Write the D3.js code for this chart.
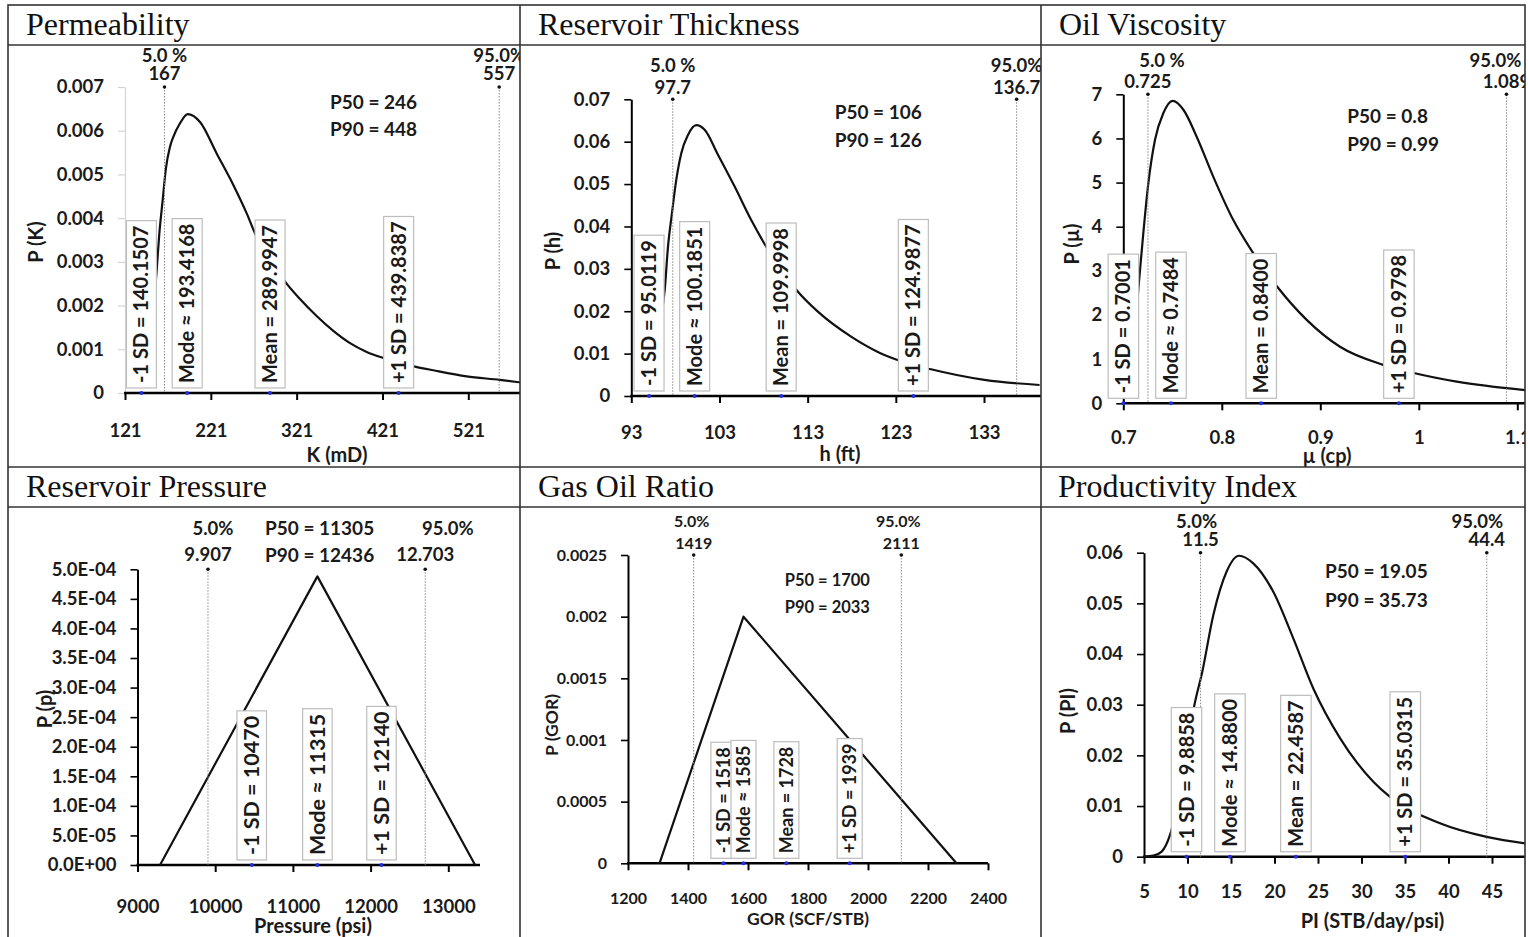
<!DOCTYPE html>
<html>
<head>
<meta charset="utf-8">
<script src="https://cdn.jsdelivr.net/npm/d3@7"></script>
<style>
  body { margin: 0; background: #fff; }
  svg { display: block; }
  .t { font-family: Lato, "Open Sans", sans-serif; font-weight: bold; fill: #1a1a1a; }
  .ttl { font-family: "Liberation Serif", "Times New Roman", serif; fill: #111; }
</style>
</head>
<body>
<svg id="chart" width="1528" height="937"></svg>
<script>
// ---------- data ----------
const titles = ["Permeability", "Reservoir Thickness", "Oil Viscosity",
                "Reservoir Pressure", "Gas Oil Ratio", "Productivity Index"];
const xTitles = ["K (mD)", "h (ft)", "\u00b5 (cp)", "Pressure (psi)", "GOR (SCF/STB)", "PI (STB/day/psi)"];
const yTitles = ["P (K)", "P (h)", "P (\u00b5)", "P (p)", "P (GOR)", "P (PI)"];

// probability density curves
const permK = [150, 154, 157.9, 161, 164.9, 168.4, 173.4, 177.3, 185.1, 194, 208.4, 227.8, 247.2, 262.8, 273.6,
               308.6, 324.9, 344.3, 363.7, 383.2, 402.6, 422, 457.7, 480.2, 519.1, 557.9, 582];
const permP = [0.0012, 0.0019, 0.00281, 0.00365, 0.00441, 0.0051, 0.00563, 0.00586, 0.00617, 0.00638, 0.0062,
               0.00548, 0.00476, 0.00411, 0.0036, 0.00252, 0.00215, 0.00176, 0.00142, 0.00114, 0.00094, 0.0008,
               0.00061, 0.00052, 0.00038, 0.0003, 0.00024];

const thickH = [95.5, 96.2, 96.79, 97.16, 97.61, 98.1, 98.67, 99.43, 100.37, 101.32, 102.83, 104.72, 106.6,
                108.42, 111.9, 114.16, 117.93, 120.96, 123.2, 127, 133.05, 139.3];
const thickP = [0.008, 0.017, 0.025, 0.0352, 0.0431, 0.051, 0.0573, 0.0616, 0.0639, 0.0628, 0.0569, 0.0494, 0.0415,
                0.0348, 0.0246, 0.0199, 0.014, 0.0104, 0.0085, 0.0063, 0.0038, 0.0026];

const viscMu = [0.708, 0.712, 0.7152, 0.7203, 0.7254, 0.7322, 0.7406, 0.7501, 0.761, 0.7745, 0.7914, 0.8117,
                0.832, 0.8563, 0.8862, 0.92, 0.964, 0.996, 1.0385, 1.112];
const viscP = [1.0, 1.8, 2.57, 3.85, 4.98, 5.97, 6.57, 6.85, 6.65, 6.04, 5.13, 4.15, 3.4, 2.64, 1.89, 1.28, 0.87,
               0.68, 0.49, 0.29];

const presX = [9290, 11315, 13345];
const presP = [0, 4.88e-4, 0];

const gorX = [1305, 1585, 2295];
const gorP = [0, 0.002, 0];

const piX = [5, 6.07, 7.03, 7.99, 9, 10, 10.67, 11.7, 12.97, 14.5, 15.92, 17.56, 19.86, 22.16, 24.46, 27.53,
             31.36, 33.28, 39.02, 44.39, 51];
const piP = [0, 0.0002, 0.001, 0.0043, 0.0115, 0.021, 0.0288, 0.0365, 0.0477, 0.0563, 0.0594, 0.0579, 0.0523,
             0.0431, 0.0332, 0.0234, 0.0148, 0.0118, 0.0066, 0.0039, 0.0022];

const curveX = [permK, thickH, viscMu, presX, gorX, piX];
const curveP = [permP, thickP, viscP, presP, gorP, piP];
const smooth = [true, true, true, false, false, true];

// axis ticks
const xTicks = [[121, 221, 321, 421, 521], [93, 103, 113, 123, 133], [0.7, 0.8, 0.9, 1, 1.1],
                [9000, 10000, 11000, 12000, 13000], [1200, 1400, 1600, 1800, 2000, 2200, 2400],
                [5, 10, 15, 20, 25, 30, 35, 40, 45, 50]];
const xTickLabels = [["121", "221", "321", "421", "521"], ["93", "103", "113", "123", "133"],
                     ["0.7", "0.8", "0.9", "1", "1.1"], ["9000", "10000", "11000", "12000", "13000"],
                     ["1200", "1400", "1600", "1800", "2000", "2200", "2400"],
                     ["5", "10", "15", "20", "25", "30", "35", "40", "45", "50"]];
const yTicks = [[0, 0.001, 0.002, 0.003, 0.004, 0.005, 0.006, 0.007],
                [0, 0.01, 0.02, 0.03, 0.04, 0.05, 0.06, 0.07],
                [0, 1, 2, 3, 4, 5, 6, 7],
                [0, 5e-5, 1e-4, 1.5e-4, 2e-4, 2.5e-4, 3e-4, 3.5e-4, 4e-4, 4.5e-4, 5e-4],
                [0, 0.0005, 0.001, 0.0015, 0.002, 0.0025],
                [0, 0.01, 0.02, 0.03, 0.04, 0.05, 0.06]];
const yTickLabels = [["0", "0.001", "0.002", "0.003", "0.004", "0.005", "0.006", "0.007"],
                     ["0", "0.01", "0.02", "0.03", "0.04", "0.05", "0.06", "0.07"],
                     ["0", "1", "2", "3", "4", "5", "6", "7"],
                     ["0.0E+00", "5.0E-05", "1.0E-04", "1.5E-04", "2.0E-04", "2.5E-04", "3.0E-04", "3.5E-04",
                      "4.0E-04", "4.5E-04", "5.0E-04"],
                     ["0", "0.0005", "0.001", "0.0015", "0.002", "0.0025"],
                     ["0", "0.01", "0.02", "0.03", "0.04", "0.05", "0.06"]];

// percentiles
const pct5 = [167, 97.7, 0.725, 9907, 1419, 11.5];
const pct5Head = ["5.0 %", "5.0 %", "5.0 %", "5.0%", "5.0%", "5.0%"];
const pct5Text = ["167", "97.7", "0.725", "9.907", "1419", "11.5"];
const pct95 = [557, 136.7, 1.089, 12703, 2111, 44.4];
const pct95Head = ["95.0%", "95.0%", "95.0%", "95.0%", "95.0%", "95.0%"];
const pct95Text = ["557", "136.7", "1.089", "12.703", "2111", "44.4"];
const p50Text = ["P50 = 246", "P50 = 106", "P50 = 0.8", "P50 = 11305", "P50 = 1700", "P50 = 19.05"];
const p90Text = ["P90 = 448", "P90 = 126", "P90 = 0.99", "P90 = 12436", "P90 = 2033", "P90 = 35.73"];

// statistics boxes
const statText = [
  ["-1 SD = 140.1507", "Mode \u2248 193.4168", "Mean = 289.9947", "+1 SD = 439.8387"],
  ["-1 SD = 95.0119", "Mode \u2248 100.1851", "Mean = 109.9998", "+1 SD = 124.9877"],
  ["-1 SD = 0.7001", "Mode \u2248 0.7484", "Mean = 0.8400", "+1 SD = 0.9798"],
  ["-1 SD = 10470", "Mode \u2248 11315", "+1 SD = 12140"],
  ["-1 SD = 1518", "Mode \u2248 1585", "Mean = 1728", "+1 SD = 1939"],
  ["-1 SD = 9.8858", "Mode \u2248 14.8800", "Mean = 22.4587", "+1 SD = 35.0315"]
];
const statValue = [
  [140.1507, 193.4168, 289.9947, 439.8387],
  [95.0119, 100.1851, 109.9998, 124.9877],
  [0.7001, 0.7484, 0.84, 0.9798],
  [10470, 11315, 12140],
  [1518, 1585, 1728, 1939],
  [9.8858, 14.88, 22.4587, 35.0315]
];

// ---------- layout of each panel (pixels) ----------
const layout = [
  { clip: [8, 45, 512, 422], xpx: [125, 468.3], ypx: [393, 87], axisEnd: 521, xLab: 37, fs: 18.5,
    boxFs: 20, boxW: 30, xt: [337, 462], yt: [36, 242], up: [31.5, 13], dx: [0, 0], pt: [330, 102, 129],
    title: [26, 35], greyY: true },
  { clip: [520, 45, 521, 422], xpx: [631.3, 984], ypx: [396, 99.3], axisEnd: 1041, xLab: 36, fs: 18.5,
    boxFs: 20, boxW: 30, xt: [840, 461], yt: [553, 251], up: [34, 12], dx: [0, 0], pt: [834.7, 112.3, 140],
    title: [538, 35] },
  { clip: [1041, 45, 484, 422], xpx: [1123.3, 1517.3], ypx: [403.3, 94.3], axisEnd: 1526, xLab: 34, fs: 18.5,
    boxFs: 20, boxW: 30.5, xt: [1327, 463], yt: [1072, 244], up: [34, 12.6], dx: [14, -11], pt: [1347.3, 116.7, 144],
    title: [1059, 35] },
  { clip: [8, 507, 512, 430], xpx: [137.5, 448.3], ypx: [865, 569.3], axisEnd: 480, xLab: 41.7, fs: 18.5,
    boxFs: 21.5, boxW: 29.5, xt: [313, 933], yt: [45, 709], up: [41, 14.3], dx: [5, 22.6], pt: [265, 528, 555],
    title: [26, 497] },
  { clip: [520, 507, 521, 430], xpx: [628, 988], ypx: [863.3, 555], axisEnd: 988, xLab: 35, fs: 16,
    boxFs: 18, boxW: 25, xt: [808, 925], yt: [552, 725], up: [33.3, 11.7], dx: [-2, -3], pt: [784.7, 580, 607.7],
    title: [538, 497] },
  { clip: [1041, 507, 484, 430], xpx: [1144, 1535.5], ypx: [856.7, 552.7], axisEnd: 1526, xLab: 35, fs: 18.5,
    boxFs: 20, boxW: 30.5, xt: [1372.5, 928], yt: [1068, 711], up: [31, 12.7], dx: [-4, -9.4], pt: [1325, 571.7, 600],
    title: [1058, 497] }
];

const svg = d3.select("#chart");

function label(g, x, y, txt, fs, anchor) {
  return g.append("text").attr("class", "t").attr("x", x).attr("y", y).attr("dy", "0.35em")
    .attr("text-anchor", anchor).style("font-size", fs + "px").text(txt);
}

layout.forEach((l, i) => {
  svg.append("clipPath").attr("id", "clip" + i).append("rect")
    .attr("x", l.clip[0]).attr("y", l.clip[1]).attr("width", l.clip[2]).attr("height", l.clip[3]);
  const g = svg.append("g").attr("clip-path", `url(#clip${i})`);

  const xt = xTicks[i], yt = yTicks[i];
  const x = d3.scaleLinear().domain([xt[0], xt[xt.length - 1]]).range(l.xpx);
  const y = d3.scaleLinear().domain([yt[0], yt[yt.length - 1]]).range(l.ypx);
  const x0 = x(xt[0]), y0 = y(0), yTop = y(yt[yt.length - 1]);
  const yCol = l.greyY ? "#d4d4d4" : "#000";

  // y axis
  const ya = g.append("g").attr("transform", `translate(${x0},0)`)
    .call(d3.axisLeft(y).tickValues(yt).tickFormat(d => yTickLabels[i][yt.indexOf(d)])
      .tickSize(7).tickPadding(14).tickSizeOuter(0));
  ya.attr("font-family", null).attr("font-size", null);
  ya.select(".domain").attr("stroke", yCol).attr("stroke-width", l.greyY ? 1.2 : 2);
  ya.selectAll(".tick line").attr("stroke", yCol).attr("stroke-width", l.greyY ? 1.2 : 1.6);
  ya.selectAll("text").attr("class", "t").attr("fill", null).style("font-size", l.fs + "px");

  // x axis
  const xa = g.append("g").attr("transform", `translate(0,${y0})`)
    .call(d3.axisBottom(x).tickValues(xt).tickFormat(d => xTickLabels[i][xt.indexOf(d)])
      .tickSize(7).tickPadding(l.xLab - 7 - 0.35 * l.fs).tickSizeOuter(0));
  xa.attr("font-family", null).attr("font-size", null);
  xa.select(".domain").remove();
  xa.selectAll(".tick line").attr("stroke", "#000").attr("stroke-width", 2);
  xa.selectAll("text").attr("class", "t").attr("fill", null).style("font-size", l.fs + "px");
  g.append("line").attr("x1", x0 - 1).attr("x2", l.axisEnd).attr("y1", y0).attr("y2", y0)
    .attr("stroke", "#000").attr("stroke-width", 2.5);

  // density curve
  const pts = curveX[i].map((v, k) => [v, curveP[i][k]]);
  g.append("path").datum(pts)
    .attr("fill", "none").attr("stroke", "#111").attr("stroke-width", 2.2).attr("stroke-linejoin", "round")
    .attr("d", d3.line().x(d => x(d[0])).y(d => y(d[1]))
      .curve(smooth[i] ? d3.curveMonotoneX : d3.curveLinear));

  // 5% / 95% markers
  [[pct5[i], pct5Head[i], pct5Text[i], l.dx[0]], [pct95[i], pct95Head[i], pct95Text[i], l.dx[1]]]
    .forEach(([v, head, txt, dx]) => {
      const px = x(v);
      g.append("line").attr("x1", px).attr("x2", px).attr("y1", yTop).attr("y2", y0)
        .attr("stroke", "#8a8a8a").attr("stroke-width", 1).attr("stroke-dasharray", "1.5,1.5");
      g.append("circle").attr("cx", px).attr("cy", yTop).attr("r", 1.8).attr("fill", "#111");
      label(g, px + dx, yTop - l.up[0], head, l.fs, "middle");
      label(g, px, yTop - l.up[1], txt, l.fs, "middle");
    });

  label(g, l.pt[0], l.pt[1], p50Text[i], l.fs + 0.5, "start");
  label(g, l.pt[0], l.pt[2], p90Text[i], l.fs + 0.5, "start");

  // statistics boxes
  const pad = 5;
  statValue[i].forEach((v, k) => {
    const cx = x(v), bottom = y0 - 5;
    const bg = g.append("g");
    const rect = bg.append("rect");
    const t = bg.append("text").attr("class", "t").style("font-size", l.boxFs + "px")
      .attr("transform", `translate(${cx},${bottom - pad}) rotate(-90)`).attr("dy", "0.35em")
      .text(statText[i][k]);
    const len = t.node().getComputedTextLength();
    rect.attr("x", cx - l.boxW / 2).attr("y", bottom - len - 2 * pad)
      .attr("width", l.boxW).attr("height", len + 2 * pad)
      .attr("fill", "#fff").attr("stroke", "#bdbdbd").attr("stroke-width", 1.2);
  });
  g.selectAll(".sdot").data(statValue[i]).enter().append("circle")
    .attr("class", "sdot").attr("cx", d => x(d)).attr("cy", y0).attr("r", 2).attr("fill", "#1f2fe0");

  // axis titles
  g.append("text").attr("class", "t").attr("x", l.xt[0]).attr("y", l.xt[1]).attr("text-anchor", "middle")
    .style("font-size", (l.fs + 1.5) + "px").text(xTitles[i]);
  g.append("text").attr("class", "t").attr("text-anchor", "middle").attr("dy", "0.35em")
    .attr("transform", `translate(${l.yt[0]},${l.yt[1]}) rotate(-90)`)
    .style("font-size", (l.fs + 1.5) + "px").text(yTitles[i]);

  // panel title
  svg.append("text").attr("class", "ttl").attr("x", l.title[0]).attr("y", l.title[1])
    .style("font-size", "32px").text(titles[i]);
});

// table frame
const frame = svg.append("g").attr("stroke", "#333").attr("stroke-width", 1.6).attr("fill", "none");
frame.append("rect").attr("x", 8).attr("y", 5).attr("width", 1517).attr("height", 940);
[520, 1041].forEach(v => frame.append("line").attr("x1", v).attr("x2", v).attr("y1", 5).attr("y2", 937));
[45, 467, 507].forEach(v => frame.append("line").attr("x1", 8).attr("x2", 1525).attr("y1", v).attr("y2", v));
</script>
</body>
</html>
